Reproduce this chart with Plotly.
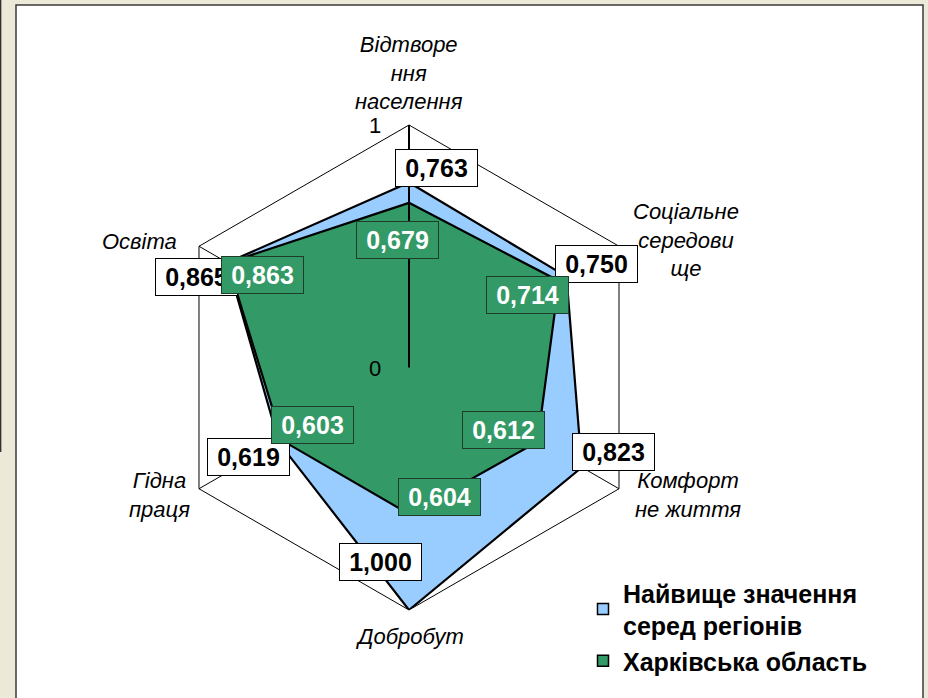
import plotly.graph_objects as go
import math

# ---- data ----
categories = ["Відтворе<br>ння<br>населення", "Соціальне<br>середови<br>ще", "Комфорт<br>не життя",
              "Добробут", "Гідна<br>праця", "Освіта"]
max_values = [0.763, 0.750, 0.823, 1.000, 0.619, 0.865]
kharkiv_values = [0.679, 0.714, 0.612, 0.604, 0.603, 0.863]
series_names = ["Найвище значення<br>серед регіонів", "Харківська область"]
radial_ticks = [0, 1]
radial_ticktext = ["0", "1"]

# ---- layout / style ----
W, H = 928, 698
BLUE = "#99CCFF"
GREEN = "#339966"
FONT = "Liberation Sans, Arial, sans-serif"
CX, CY, RAD = 409, 367.5, 242.5
dom_x = [(CX - RAD) / W, (CX + RAD) / W]
dom_y = [(H - CY - RAD) / H, (H - CY + RAD) / H]
# label offsets (px) for the value boxes, category labels and radial tick labels
max_shift = [(28, 14), (30, 13), (32, 15), (-29, 48), (-31, -14), (-31, -14)]
kh_shift = [(-11, -37), (-31, -14), (-34, 12), (31, 17), (30, 16), (35, -12)]
cat_shift = [(0, 52), (67, 6), (69, -6), (0, -26), (-39, -6), (-59, 5)]
rtick_shift = (-34, -1)

n = len(categories)
angles = [360.0 * i / n for i in range(n)]  # clockwise from top
cxp = (dom_x[0] + dom_x[1]) / 2
cyp = (dom_y[0] + dom_y[1]) / 2
R = (dom_x[1] - dom_x[0]) * W / 2


def to_paper(r, ang):
    a = math.radians(ang)
    return cxp + r * R * math.sin(a) / W, cyp + r * R * math.cos(a) / H


fig = go.Figure()
for vals, color in [(max_values, BLUE), (kharkiv_values, GREEN)]:
    fig.add_trace(go.Scatterpolar(
        r=vals + vals[:1], theta=categories + categories[:1], mode="lines", fill="toself",
        fillcolor=color, line=dict(color="black", width=2.2), showlegend=False, hoverinfo="skip"))
for color, name in [(BLUE, series_names[0]), (GREEN, series_names[1])]:
    fig.add_trace(go.Scatterpolar(
        r=[None], theta=[categories[0]], mode="markers", name=name,
        marker=dict(symbol="square", size=11, color=color, line=dict(color="black", width=1.5))))

common = dict(xref="paper", yref="paper", showarrow=False, xanchor="center", yanchor="middle")
annotations = []
for i, v in enumerate(max_values):
    x, y = to_paper(v, angles[i])
    annotations.append(dict(x=x, y=y, text="<b>%s</b>" % ("%.3f" % v).replace(".", ","),
                            xshift=max_shift[i][0], yshift=max_shift[i][1],
                            bgcolor="white", bordercolor="black", borderwidth=1, borderpad=1,
                            width=79, height=34, font=dict(family=FONT, size=25, color="black"), **common))
for i, v in enumerate(kharkiv_values):
    x, y = to_paper(v, angles[i])
    annotations.append(dict(x=x, y=y, text="<b>%s</b>" % ("%.3f" % v).replace(".", ","),
                            xshift=kh_shift[i][0], yshift=kh_shift[i][1],
                            bgcolor=GREEN, bordercolor="#1d3d2a", borderwidth=1, borderpad=1,
                            width=79, height=34, font=dict(family=FONT, size=25, color="white"), **common))
for i, c in enumerate(categories):
    x, y = to_paper(1.0, angles[i])
    annotations.append(dict(x=x, y=y, text=c, align="center",
                            xshift=cat_shift[i][0], yshift=cat_shift[i][1],
                            font=dict(family=FONT, size=22, color="black", style="italic"), **common))
for rv, rt in zip(radial_ticks, radial_ticktext):
    x, y = to_paper(rv, 0)
    annotations.append(dict(x=x, y=y, text=rt, xshift=rtick_shift[0], yshift=rtick_shift[1],
                            font=dict(family=FONT, size=22, color="black"), **common))

shapes = [
    dict(type="rect", xref="paper", yref="paper", x0=16 / W, x1=923 / W, y0=-0.02, y1=(H - 5) / H,
         fillcolor="white", line=dict(color="#3a3a3a", width=1.5), layer="below"),
    dict(type="line", xref="paper", yref="paper", x0=0.6 / W, x1=0.6 / W, y0=1, y1=(H - 452) / H,
         line=dict(color="#333333", width=1.5), layer="below"),
]

fig.update_layout(
    width=W, height=H, margin=dict(l=0, r=0, t=0, b=0),
    paper_bgcolor="#ECE9D8",
    font=dict(family=FONT, color="black"),
    polar=dict(
        domain=dict(x=dom_x, y=dom_y), bgcolor="white", gridshape="linear",
        angularaxis=dict(type="category", categoryarray=categories, rotation=90, direction="clockwise",
                         showticklabels=False, ticks="", showgrid=True, gridcolor="black", gridwidth=1,
                         showline=True, linecolor="black", linewidth=1, layer="above traces"),
        radialaxis=dict(range=[0, 1], tickvals=radial_ticks, angle=90, showticklabels=False,
                        showgrid=True, gridcolor="black", gridwidth=1,
                        showline=True, linecolor="black", linewidth=2, ticks="", layer="above traces"),
    ),
    legend=dict(x=583 / W, y=(H - 570) / H, xanchor="left", yanchor="top", bgcolor="rgba(0,0,0,0)",
                font=dict(family=FONT, size=25, color="black", weight="bold"), tracegroupgap=0),
    annotations=annotations, shapes=shapes,
)

fig.write_html("out.html", config={"displayModeBar": False},
               post_script="document.body.style.margin='0';document.body.style.overflow='hidden';")
